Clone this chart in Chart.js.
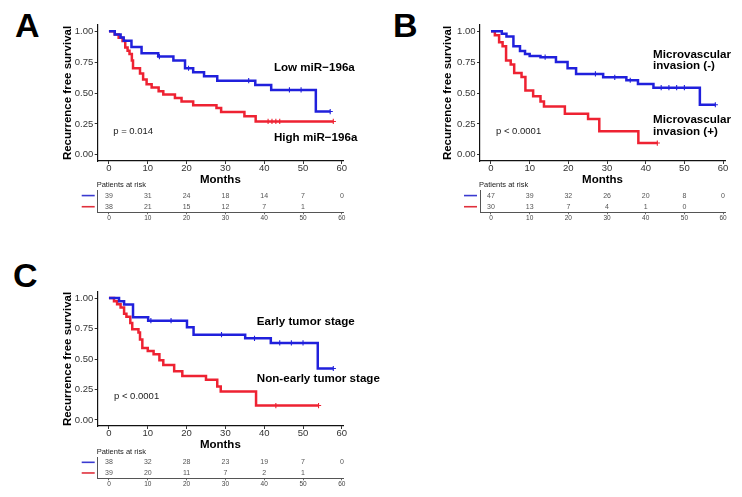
<!DOCTYPE html>
<html><head><meta charset="utf-8">
<script src="https://cdn.jsdelivr.net/npm/chart.js@4.4.0/dist/chart.umd.min.js"></script>
<style>
html,body{margin:0;padding:0;background:#fff;}
#wrap{position:relative;width:742px;height:497px;overflow:hidden;background:#fff;}
canvas{position:absolute;}
.letter{position:absolute;font-family:"Liberation Sans",Arial,sans-serif;font-weight:bold;font-size:34px;line-height:34px;color:#000;}
</style></head><body>
<div id="wrap">
  <div class="letter" style="left:15px;top:8px">A</div>
  <div class="letter" style="left:393px;top:8px">B</div>
  <div class="letter" style="left:13px;top:258px">C</div>
  <canvas id="kmA" width="310" height="173" style="left:55px;top:15px"></canvas>
  <canvas id="rtA" width="275" height="48" style="left:75px;top:178px"></canvas>
  <canvas id="kmB" width="307" height="173" style="left:435px;top:15px"></canvas>
  <canvas id="rtB" width="272" height="48" style="left:458px;top:178px"></canvas>
  <canvas id="kmC" width="330" height="171" style="left:55px;top:282px"></canvas>
  <canvas id="rtC" width="275" height="47" style="left:75px;top:445px"></canvas>
</div>
<script>
// ---------- data ----------
const timeTicks = [0, 10, 20, 30, 40, 50, 60];
const survTicks = [0, 0.25, 0.5, 0.75, 1.0];

// Panel A: miR-196a
const lowMiR_t  = [0, 1.5, 3, 3.8, 5.8, 8.4, 12.7, 16.6, 19.6, 21.7, 24.5, 27.9, 37.7, 41.8, 53.3, 57];
const lowMiR_s  = [1, 0.974, 0.949, 0.923, 0.872, 0.821, 0.795, 0.762, 0.70, 0.668, 0.635, 0.60, 0.565, 0.525, 0.35, 0.35];
const lowMiR_cens = [13, 20.5, 36, 46.5, 49.5, 57];
const highMiR_t = [0, 1.5, 2.5, 3.5, 4.2, 4.8, 5.3, 5.9, 6.2, 8, 8.8, 9.7, 11, 12.8, 14, 17, 18.7, 21.7, 27.7, 28.9, 34.9, 37.8, 57.8];
const highMiR_s = [1, 0.974, 0.947, 0.921, 0.868, 0.842, 0.816, 0.763, 0.70, 0.658, 0.61, 0.57, 0.545, 0.515, 0.487, 0.46, 0.432, 0.40, 0.378, 0.346, 0.311, 0.27, 0.27];
const highMiR_cens = [41, 42, 43, 44, 57.8];
const riskA_low  = [39, 31, 24, 18, 14, 7, 0];
const riskA_high = [38, 21, 15, 12, 7, 1];

// Panel B: microvascular invasion
const mviNeg_t = [0, 2.8, 4, 5.8, 7.5, 8.8, 10, 12.8, 16.8, 19.8, 22, 29, 35, 38, 42, 54, 58];
const mviNeg_s = [1, 0.979, 0.957, 0.878, 0.84, 0.816, 0.80, 0.79, 0.75, 0.70, 0.654, 0.627, 0.603, 0.573, 0.543, 0.405, 0.405];
const mviNeg_cens = [14, 27, 32, 36, 44, 46, 48, 50, 58];
const mviPos_t = [0, 1, 2.1, 3, 3.9, 5.1, 6, 7.9, 8.9, 10.9, 12.8, 13.7, 19.1, 25.1, 28, 38.1, 43];
const mviPos_s = [1, 0.967, 0.91, 0.878, 0.762, 0.73, 0.662, 0.63, 0.52, 0.473, 0.432, 0.39, 0.332, 0.29, 0.19, 0.095, 0.095];
const mviPos_cens = [43];
const riskB_neg = [47, 39, 32, 26, 20, 8, 0];
const riskB_pos = [30, 13, 7, 4, 1, 0];

// Panel C: tumor stage
const early_t = [0, 2.6, 3.9, 6.2, 10.1, 20.1, 21.8, 35.1, 41.7, 53.8, 57.8];
const early_s = [1, 0.974, 0.947, 0.842, 0.815, 0.76, 0.70, 0.67, 0.632, 0.422, 0.422];
const early_cens = [10.8, 16, 29, 37.5, 44, 47, 50, 57.8];
const nonEarly_t = [0, 1.3, 2.1, 3, 3.9, 4.5, 5.5, 6, 7.6, 8, 8.6, 10, 11.5, 13, 14, 16.8, 18.9, 25, 27.9, 28.8, 37.9, 54];
const nonEarly_s = [1, 0.974, 0.949, 0.923, 0.872, 0.846, 0.795, 0.744, 0.718, 0.66, 0.59, 0.565, 0.54, 0.49, 0.45, 0.40, 0.36, 0.33, 0.274, 0.234, 0.118, 0.118];
const nonEarly_cens = [43, 54];
const riskC_early = [38, 32, 28, 23, 19, 7, 0];
const riskC_non   = [39, 20, 11, 7, 2, 1];

// ---------- styling ----------
const FONT = '"Liberation Sans", Arial, Helvetica, sans-serif';
const BLUE = '#2020dc';
const RED = '#ee2232';
Chart.defaults.font.family = FONT;

function pts(ts, ss) { return ts.map((t, i) => ({x: t, y: ss[i]})); }
function survAt(ts, ss, t) { let v = ss[0]; for (let i = 0; i < ts.length; i++) { if (ts[i] <= t) v = ss[i]; } return v; }
function censPts(cs, ts, ss) { return cs.map(t => ({x: t, y: survAt(ts, ss, t)})); }

const textPlugin = {
  id: 'kmTexts',
  afterDraw(chart, args, opts) {
    const {ctx, scales: {x, y}} = chart;
    ctx.save();
    (opts.items || []).forEach(it => {
      ctx.font = it.font;
      ctx.fillStyle = it.color || '#000';
      ctx.textAlign = 'left';
      ctx.textBaseline = 'middle';
      it.text.split('\n').forEach((ln, i) => {
        ctx.fillText(ln, x.getPixelForValue(it.x), y.getPixelForValue(it.y) + i * (it.lh || 0));
      });
    });
    ctx.restore();
  }
};

function kmChart(id, c) {
  const lineDs = (ts, ss, col) => ({data: pts(ts, ss), borderColor: col, borderWidth: 2.5, pointRadius: 0, stepped: true, fill: false, showLine: true, borderCapStyle: 'butt'});
  const censDs = (cs, ts, ss, col) => ({data: censPts(cs, ts, ss), borderColor: col, backgroundColor: col, borderWidth: 1.1, pointRadius: 2.6, pointStyle: 'cross', showLine: false});
  return new Chart(document.getElementById(id), {
    type: 'line',
    data: {datasets: [
      lineDs(c.bt, c.bs, BLUE), lineDs(c.rt, c.rs, RED),
      censDs(c.bc, c.bt, c.bs, BLUE), censDs(c.rc, c.rt, c.rs, RED)
    ]},
    options: {
      responsive: false, animation: false, events: [],
      layout: {padding: {left: 0, top: 10, right: c.padRight, bottom: 0}},
      plugins: {legend: {display: false}, tooltip: {enabled: false}, kmTexts: {items: c.texts}},
      scales: {
        x: {
          type: 'linear', min: c.xmin, max: c.xmax,
          afterBuildTicks: s => { s.ticks = timeTicks.map(v => ({value: v})); },
          afterFit: s => { s.height = 27; },
          grid: {display: true, drawOnChartArea: false, tickLength: 3, color: '#333', lineWidth: 1},
          border: {display: true, color: '#111', width: 1.2},
          ticks: {font: {size: 9.5}, color: '#333', padding: -1.5, maxRotation: 0, autoSkip: false},
          title: {display: true, text: 'Months', font: {size: 11.5, weight: 'bold'}, color: '#000', padding: {top: 0, bottom: 1.1}}
        },
        y: {
          type: 'linear', min: -0.05, max: 1.05,
          afterBuildTicks: s => { s.ticks = survTicks.map(v => ({value: v})); },
          afterFit: s => { s.width = c.yWidth; },
          grid: {display: true, drawOnChartArea: false, tickLength: 3, color: '#333', lineWidth: 1},
          border: {display: true, color: '#111', width: 1.2},
          ticks: {font: {size: 9.5}, color: '#333', padding: 1.4, callback: v => Number(v).toFixed(2)},
          title: {display: true, text: 'Recurrence free survival', font: {size: 11.5, weight: 'bold'}, color: '#000', padding: {top: 6.1, bottom: 0}}
        }
      }
    },
    plugins: [textPlugin]
  });
}

const riskPlugin = {
  id: 'riskTable',
  afterDatasetsDraw(chart, args, opts) {
    const {ctx, chartArea, scales: {x, y}} = chart;
    ctx.save();
    ctx.font = '7.5px ' + FONT;
    ctx.fillStyle = '#222';
    ctx.textAlign = 'left';
    ctx.textBaseline = 'middle';
    ctx.fillText('Patients at risk', chartArea.left - 1, chartArea.top - 5.5);
    ctx.font = '7px ' + FONT;
    ctx.fillStyle = '#555';
    ctx.textAlign = 'center';
    chart.data.datasets.forEach((ds, di) => {
      const meta = chart.getDatasetMeta(di);
      meta.data.forEach((pt, i) => ctx.fillText(String(ds.counts[i]), pt.x, pt.y));
      const yy = y.getPixelForValue(di);
      ctx.strokeStyle = ds.swatch;
      ctx.lineWidth = 1.6;
      ctx.beginPath();
      ctx.moveTo(chartArea.left - 16, yy);
      ctx.lineTo(chartArea.left - 3, yy);
      ctx.stroke();
    });
    ctx.restore();
  }
};

function riskChart(id, c) {
  const rows = c.rows;
  const ds = (counts, row, col) => ({
    data: counts.map((n, i) => ({x: timeTicks[i], y: row})),
    counts: counts, swatch: col, pointRadius: 0, showLine: false
  });
  return new Chart(document.getElementById(id), {
    type: 'line',
    data: {datasets: [ds(c.blue, rows[0], '#3a3ad0'), ds(c.red, rows[1], '#e0303c')]},
    options: {
      responsive: false, animation: false, events: [],
      layout: {padding: {left: 0, top: 12, right: c.padRight, bottom: 0}},
      plugins: {legend: {display: false}, tooltip: {enabled: false}},
      scales: {
        x: {
          type: 'linear', min: c.xmin, max: c.xmax,
          afterBuildTicks: s => { s.ticks = timeTicks.map(v => ({value: v})); },
          afterFit: s => { s.height = c.xHeight; },
          grid: {display: true, drawOnChartArea: false, tickLength: 2, color: '#666'},
          border: {display: true, color: '#555', width: 1},
          ticks: {font: {size: 6.5}, color: '#444', padding: 0, maxRotation: 0, autoSkip: false}
        },
        y: {
          type: 'category', labels: rows, offset: true,
          afterFit: s => { s.width = c.yWidth; },
          grid: {display: true, drawOnChartArea: false, drawTicks: false},
          border: {display: true, color: '#555', width: 1},
          ticks: {display: false}
        }
      }
    },
    plugins: [riskPlugin]
  });
}

const TXT = 'bold 11.6px ' + FONT;
const PTXT = '9.5px ' + FONT;

kmChart('kmA', {
  bt: lowMiR_t, bs: lowMiR_s, bc: lowMiR_cens,
  rt: highMiR_t, rs: highMiR_s, rc: highMiR_cens,
  xmin: -2.9, xmax: 60.3, yWidth: 42.7, padRight: 22,
  texts: [
    {text: 'Low miR\u2212196a', x: 42.5, y: 0.70, font: TXT},
    {text: 'High miR\u2212196a', x: 42.5, y: 0.138, font: TXT},
    {text: 'p = 0.014', x: 1.1, y: 0.187, font: PTXT, color: '#222'}
  ]
});
riskChart('rtA', {blue: riskA_low, red: riskA_high, rows: ['Low miR-196a', 'High miR-196a'],
  xmin: -2.9, xmax: 60.3, yWidth: 22.7, padRight: 7, xHeight: 13.7});

kmChart('kmB', {
  bt: mviNeg_t, bs: mviNeg_s, bc: mviNeg_cens,
  rt: mviPos_t, rs: mviPos_s, rc: mviPos_cens,
  xmin: -2.84, xmax: 60.5, yWidth: 45, padRight: 17,
  texts: [
    {text: 'Microvascular\ninvasion (-)', x: 41.9, y: 0.811, font: TXT, lh: 11.7},
    {text: 'Microvascular\ninvasion (+)', x: 41.9, y: 0.284, font: TXT, lh: 11.7},
    {text: 'p < 0.0001', x: 1.3, y: 0.187, font: PTXT, color: '#222'}
  ]
});
riskChart('rtB', {blue: riskB_neg, red: riskB_pos, rows: ['Microvascular invasion (-)', 'Microvascular invasion (+)'],
  xmin: -2.84, xmax: 60.5, yWidth: 22, padRight: 5, xHeight: 13.7});

kmChart('kmC', {
  bt: early_t, bs: early_s, bc: early_cens,
  rt: nonEarly_t, rs: nonEarly_s, rc: nonEarly_cens,
  xmin: -2.9, xmax: 60.3, yWidth: 42.7, padRight: 42,
  texts: [
    {text: 'Early tumor stage', x: 38.1, y: 0.806, font: TXT},
    {text: 'Non-early tumor stage', x: 38.1, y: 0.334, font: TXT},
    {text: 'p < 0.0001', x: 1.3, y: 0.194, font: PTXT, color: '#222'}
  ]
});
riskChart('rtC', {blue: riskC_early, red: riskC_non, rows: ['Early tumor stage', 'Non-early tumor stage'],
  xmin: -2.9, xmax: 60.3, yWidth: 22.7, padRight: 7, xHeight: 13.7});
</script>
</body></html>
